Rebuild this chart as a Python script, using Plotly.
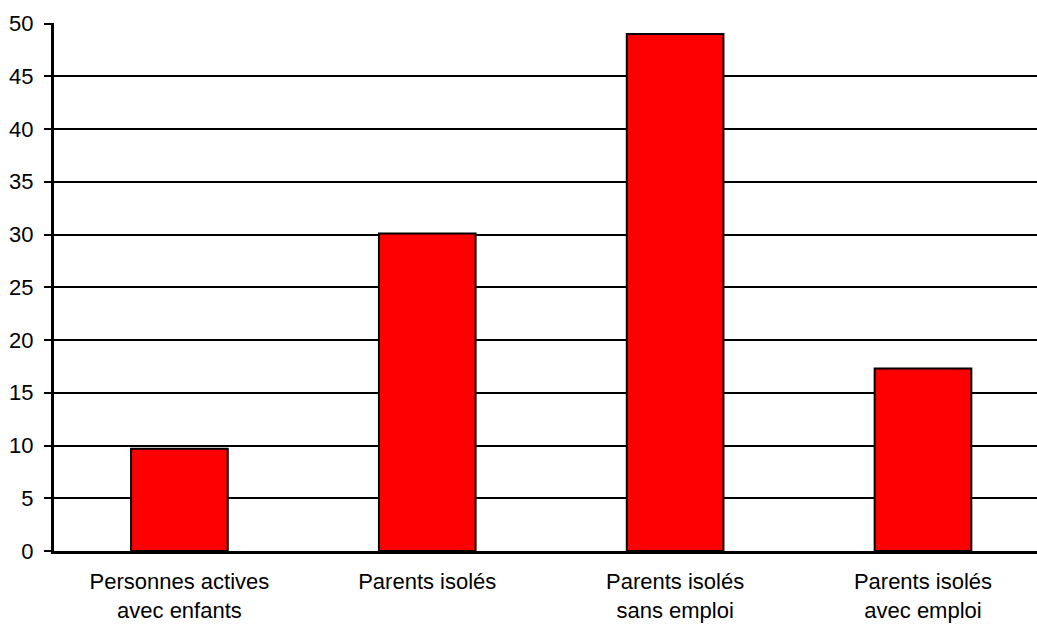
import plotly.graph_objects as go

# Categories and values (percent)
categories = [
    "Personnes actives<br>avec enfants",
    "Parents isolés",
    "Parents isolés<br>sans emploi",
    "Parents isolés<br>avec emploi",
]
values = [9.7, 30.1, 49.0, 17.3]
y_ticks = [0, 5, 10, 15, 20, 25, 30, 35, 40, 45, 50]

fig = go.Figure(
    go.Bar(
        x=list(range(len(categories))),
        y=values,
        width=0.39,
        marker=dict(color="#ff0000", line=dict(color="black", width=2)),
    )
)

fig.update_layout(
    width=1037,
    height=626,
    margin=dict(l=54, r=0, t=23, b=75),
    paper_bgcolor="white",
    plot_bgcolor="white",
    showlegend=False,
    font=dict(family="Liberation Sans, Arial, sans-serif", color="black", size=22),
)

fig.update_xaxes(
    tickmode="array",
    tickvals=list(range(len(categories))),
    ticktext=categories,
    range=[-0.506, 3.46],
    showgrid=False,
    showline=True,
    linecolor="black",
    linewidth=3,
    ticks="",
    tickfont=dict(size=22),
    ticklabelstandoff=9,
    automargin=False,
    zeroline=False,
)

fig.update_yaxes(
    range=[0, 50.05],
    tickvals=y_ticks,
    showgrid=True,
    gridcolor="black",
    gridwidth=1.5,
    showline=True,
    linecolor="black",
    linewidth=3,
    ticks="outside",
    ticklen=7,
    tickwidth=1.5,
    tickcolor="black",
    tickfont=dict(size=22),
    ticklabelstandoff=6,
    automargin=False,
    zeroline=False,
)

fig.write_html("out.html")
